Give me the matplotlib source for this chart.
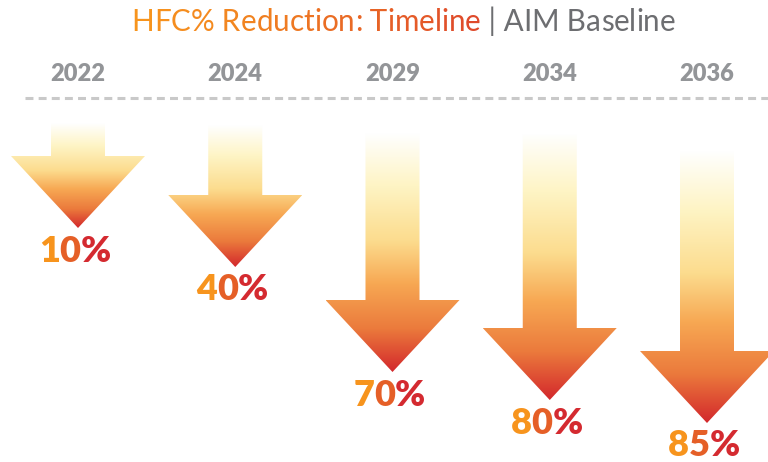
import numpy as np
import matplotlib
matplotlib.use("Agg")
import matplotlib.pyplot as plt
from matplotlib.patches import Polygon
from matplotlib.colors import LinearSegmentedColormap, to_hex

# data
years = ["2022", "2024", "2029", "2034", "2036"]
reductions = [10, 40, 70, 80, 85]
# depth of each arrow (top of shaft / tip), in picture rows
shaft_top = [123, 125, 133, 133, 150]
arrow_tip = [228, 267, 372, 400, 423]

plt.rcParams['font.family'] = ['Lato', 'DejaVu Sans']

W, H = 768, 462
step = 157.25          # px between arrows
x0px = 78              # px of the first arrow
SHAFT = 27 / step      # half widths in index units
HEAD = 67 / step
HEAD_LEN = 72

fig = plt.figure(figsize=(W / 100, H / 100), dpi=100)
ax = fig.add_axes([0, 0, 1, 1])
ax.set_xlim(-x0px / step, (W - x0px) / step)
ax.set_ylim(H, 0)
ax.axis('off')

arrow_cmap = LinearSegmentedColormap.from_list(
    'arrow', [(0.0, '#FFFFFF'), (0.22, '#FEF4C4'), (0.45, '#FCDC8E'),
              (0.63, '#F7A853'), (0.82, '#EB7A3C'), (1.0, '#D3282C')])
grad = np.linspace(0, 1, 256).reshape(-1, 1)

for i, (top, tip) in enumerate(zip(shaft_top, arrow_tip)):
    ht = tip - HEAD_LEN
    pts = [(i - SHAFT, top), (i + SHAFT, top), (i + SHAFT, ht), (i + HEAD, ht),
           (i, tip), (i - HEAD, ht), (i - SHAFT, ht)]
    poly = Polygon(pts, closed=True, facecolor='none', edgecolor='none')
    ax.add_patch(poly)
    im = ax.imshow(grad, cmap=arrow_cmap, aspect='auto', origin='upper',
                   extent=(i - HEAD, i + HEAD, tip, top), interpolation='bilinear')
    im.set_clip_path(poly)

ax.set_xlim(-x0px / step, (W - x0px) / step)
ax.set_ylim(H, 0)

# dashed timeline
ax.plot([-53 / step, (W - x0px) / step], [98, 98], color='#C9C9C9', lw=2.2,
        ls=(0, (2.6, 1.7)), solid_capstyle='butt')

for i, y in enumerate(years):
    ax.text(i, 74, y, ha='center', va='center', fontsize=17, fontweight='heavy',
            color='#939598')

renderer = fig.canvas.get_renderer()


def tokens(s):
    out = []
    for ch in s:
        if out and out[-1].endswith(' ') and out[-1].strip() == '':
            out[-1] += ch
        elif ch == ' ':
            out.append(' ')
        else:
            out.append(ch)
    return out


def gradient_text(x, y, parts, **kw):
    # parts: list of (string, color0, color1); each char coloured along the gradient
    full = ''.join(p[0] for p in parts)
    probe = ax.text(x, y, full, ha='center', va='center', **kw)
    bb = probe.get_window_extent(renderer)
    probe.remove()
    xs = ax.transData.inverted().transform((bb.x0, bb.y0))[0]
    prev = None
    for s, c0, c1 in parts:
        cm = LinearSegmentedColormap.from_list('t', [c0, c1])
        toks = tokens(s)
        n = max(len(toks) - 1, 1)
        for k, tk in enumerate(toks):
            col = to_hex(cm(k / n))
            if prev is None:
                prev = ax.text(xs, y, tk, ha='left', va='center', color=col, **kw)
            else:
                prev = ax.annotate(tk, xy=(1, 0), xycoords=prev, ha='left',
                                   va='bottom', color=col, **kw)


gradient_text(2.07, 22, [("HFC% Reduction: Timeline", '#F7941D', '#DF4A2B'),
                         (" | AIM Baseline", '#6D6E71', '#6D6E71')], fontsize=21.3)

for i, (r, tip) in enumerate(zip(reductions, arrow_tip)):
    gradient_text(i - 0.02, tip + 23, [(f"{r}%", '#F7941D', '#D42A30')],
                  fontsize=26, fontweight='heavy')

fig.savefig('out.png', dpi=100)
